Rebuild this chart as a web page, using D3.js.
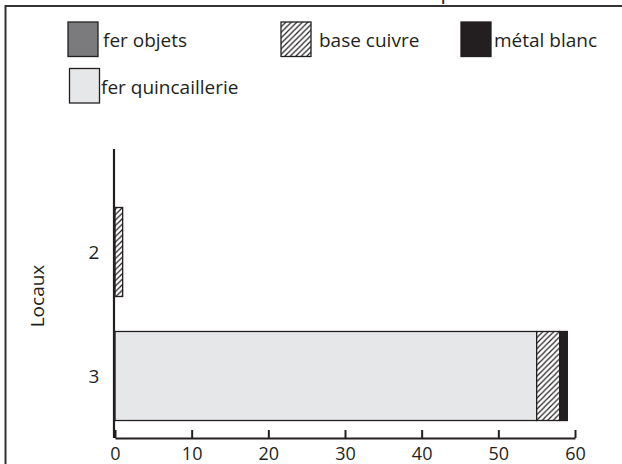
<!DOCTYPE html>
<html><head><meta charset="utf-8">
<script src="https://cdn.jsdelivr.net/npm/d3@7"></script>
<style>body{margin:0;background:#fff}svg{display:block}text{font-family:"Open Sans",sans-serif;fill:#231f20}</style>
</head><body>
<script>
const title = "Nombre de mobilier métallique";
const categories = ["2", "3"];
const seriesNames = ["fer objets", "fer quincaillerie", "base cuivre", "métal blanc"];
const ferObjets = [0, 0];
const ferQuincaillerie = [0, 55];
const baseCuivre = [1, 3];
const metalBlanc = [0, 1];
const xTicks = [0, 10, 20, 30, 40, 50, 60];

const W = 622, H = 464;
const svg = d3.select("body").append("svg").attr("width", W).attr("height", H);
const defs = svg.append("defs");
const pat = defs.append("pattern").attr("id", "hatch").attr("patternUnits", "userSpaceOnUse")
  .attr("width", 5.5).attr("height", 5.5);
pat.append("rect").attr("width", 5.5).attr("height", 5.5).attr("fill", "#fff");
pat.append("path").attr("d", "M-1.375,1.375 L1.375,-1.375 M0,5.5 L5.5,0 M4.125,6.875 L6.875,4.125")
  .attr("stroke", "#231f20").attr("stroke-width", 1.2);

const fills = {"fer objets": "#7b7b7d", "fer quincaillerie": "#e6e7e8", "base cuivre": "url(#hatch)", "métal blanc": "#231f20"};
const valuesBySeries = {"fer objets": ferObjets, "fer quincaillerie": ferQuincaillerie, "base cuivre": baseCuivre, "métal blanc": metalBlanc};

// frame
svg.append("rect").attr("x", 5.5).attr("y", 6).attr("width", 640).attr("height", 480)
  .attr("fill", "none").attr("stroke", "#333").attr("stroke-width", 2);
svg.append("text").attr("x", 311).attr("y", -1).attr("text-anchor", "middle")
  .attr("font-size", 22).text(title);

const x = d3.scaleLinear().domain([0, 60]).range([115, 575]);
const y = d3.scaleBand().domain(categories).range([190, 438]).paddingInner(0.282).paddingOuter(0.141);

const stackOrder = ["fer objets", "fer quincaillerie", "base cuivre", "métal blanc"];
const rows = categories.map((c, i) => { const r = {cat: c}; stackOrder.forEach(s => r[s] = valuesBySeries[s][i]); return r; });
const stacked = d3.stack().keys(stackOrder)(rows);
stacked.forEach(layer => {
  svg.append("g").selectAll("rect").data(layer.filter(d => d[1] - d[0] > 0)).join("rect")
    .attr("x", d => x(d[0])).attr("width", d => x(d[1]) - x(d[0]))
    .attr("y", d => y(d.data.cat)).attr("height", y.bandwidth())
    .attr("fill", fills[layer.key]).attr("stroke", "#231f20").attr("stroke-width", 1.3);
});

// x axis
const xa = svg.append("g").attr("transform", "translate(0,438)")
  .call(d3.axisBottom(x).tickValues(xTicks).tickSize(-8).tickPadding(9).tickSizeOuter(0));
xa.select(".domain").attr("stroke", "#231f20").attr("stroke-width", 2.2);
xa.selectAll(".tick line").attr("stroke", "#231f20").attr("stroke-width", 2);
xa.selectAll(".tick text").attr("font-size", 18).attr("font-family", "Open Sans").attr("fill", "#231f20");

// y axis
svg.append("line").attr("x1", 114).attr("x2", 114).attr("y1", 149).attr("y2", 438)
  .attr("stroke", "#231f20").attr("stroke-width", 2.2);
svg.append("g").selectAll("text").data(categories).join("text")
  .attr("x", 94).attr("y", d => y(d) + y.bandwidth() / 2 + 7).attr("text-anchor", "middle")
  .attr("font-size", 19).text(d => d);
svg.append("text").attr("transform", "translate(44,296) rotate(-90)").attr("text-anchor", "middle")
  .attr("font-size", 19).text("Locaux");

// legend
const legend = [
  {name: "fer objets", x: 68, y: 22, tx: 103, ty: 47},
  {name: "base cuivre", x: 281, y: 22, tx: 319, ty: 47},
  {name: "métal blanc", x: 461, y: 22, tx: 494, ty: 47},
  {name: "fer quincaillerie", x: 69.5, y: 68.5, tx: 101, ty: 94}
];
const lg = svg.append("g").selectAll("g").data(legend).join("g");
lg.append("rect").attr("x", d => d.x).attr("y", d => d.y).attr("width", 30).attr("height", 34.5)
  .attr("fill", d => fills[d.name]).attr("stroke", "#231f20").attr("stroke-width", 1.3);
lg.append("text").attr("x", d => d.tx).attr("y", d => d.ty).attr("font-size", 19).text(d => d.name);
</script>
</body></html>
